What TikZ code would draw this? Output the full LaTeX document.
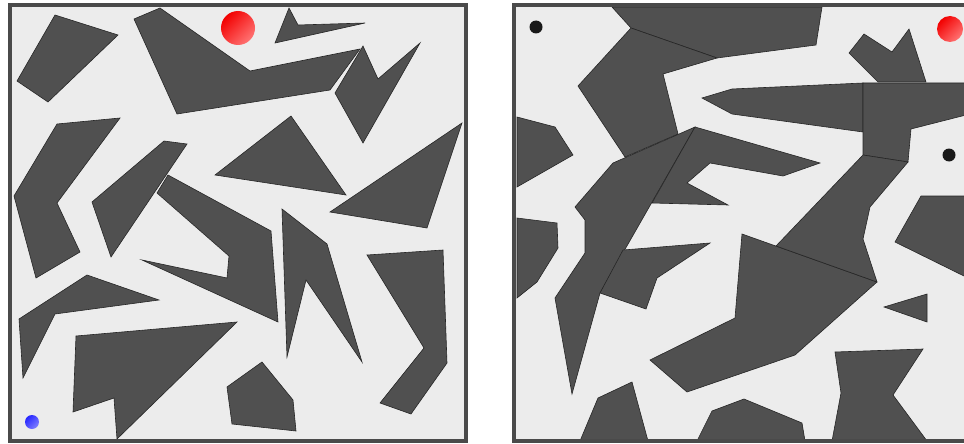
\documentclass[tikz,border=0pt]{standalone}
\definecolor{rock}{HTML}{505050}
\definecolor{ground}{HTML}{ECECEC}
\definecolor{rim}{HTML}{4A4A4A}
\begin{document}
\begin{tikzpicture}[x=1pt, y=-1pt,
  wall/.style={fill=rock, draw=black!85, line width=0.6pt},
  rimline/.style={draw=rim, line width=4pt},
  goal/.style={shading=axis, top color=red!95!black, bottom color=red!55!white, shading angle=45}]
  \useasboundingbox (0,0) rectangle (964,444);

  % floors
  \fill[ground] (9.5,5) rectangle (466,441);
  \fill[ground] (514,5) rectangle (966,441);

  % left arena, obstacles
  \draw[wall] (55,15) -- (118,35) -- (48,102) -- (17,81) -- cycle;
  \draw[wall] (134,19) -- (160,8) -- (250,71) -- (360,49) -- (330,90) -- (177,114) -- cycle;
  \draw[wall] (289,8) -- (298,25) -- (365,23) -- (275,43) -- cycle;
  \draw[wall] (335,93) -- (363,46) -- (378,79) -- (420,43) -- (363,143) -- cycle;
  \draw[wall] (215,175) -- (291,116) -- (346,195) -- cycle;
  \draw[wall] (330,212) -- (462,123) -- (427,228) -- cycle;
  \draw[wall] (57,124) -- (120,118) -- (57,203) -- (80,252) -- (36,278) -- (14,196) -- cycle;
  \draw[wall] (164,141) -- (187,144) -- (111,257) -- (92,202) -- cycle;
  \draw[wall] (168,175) -- (271,231) -- (278,322) -- (142,260) -- (227,278) -- (229,256) -- (157,193) -- cycle;
  \draw[wall] (19,319) -- (87,275) -- (159,300) -- (55,314) -- (23,378) -- cycle;
  \draw[wall] (76,336) -- (237,322) -- (117,439) -- (114,398) -- (73,412) -- cycle;
  \draw[wall] (262,362) -- (293,400) -- (296,431) -- (232,424) -- (227,387) -- cycle;
  \draw[wall] (282,209) -- (327,244) -- (362,362) -- (306,280) -- (287,357) -- cycle;
  \draw[wall] (367,255) -- (443,250) -- (447,363) -- (411,414) -- (380,403) -- (424,348) -- cycle;

  % right arena, obstacles
  \draw[wall] (612,7) -- (822,7) -- (816,45) -- (717,58) -- (631,28) -- cycle;
  \draw[wall] (631,28) -- (717,58) -- (663,74) -- (678,134) -- (625,157) -- (578,86) -- cycle;
  \draw[wall] (702,98) -- (732,89) -- (863,83) -- (863,132) -- (732,114) -- cycle;
  \draw[wall] (863,83) -- (966,83) -- (966,115) -- (911,129) -- (908,162) -- (863,155) -- cycle;
  \draw[wall] (849,53) -- (864,34) -- (892,52) -- (909,29) -- (926,82) -- (878,82) -- cycle;
  \draw[wall] (742,234) -- (877,282) -- (795,355) -- (687,392) -- (650,360) -- (735,318) -- cycle;
  \draw[wall] (863,155) -- (908,162) -- (870,207) -- (863,239) -- (877,282) -- (776,246) -- cycle;
  \draw[wall] (884,307) -- (927,294) -- (927,322) -- cycle;
  \draw[wall] (921,196) -- (966,196) -- (966,277) -- (895,242) -- cycle;
  \draw[wall] (835,352) -- (923,349) -- (893,395) -- (927,441) -- (832,441) -- (841,393) -- cycle;
  \draw[wall] (697,441) -- (712,411) -- (744,399) -- (802,423) -- (805,441) -- cycle;
  \draw[wall] (580,441) -- (598,398) -- (632,382) -- (648,441) -- cycle;
  \draw[wall] (517,117) -- (555,127) -- (573,155) -- (517,187) -- cycle;
  \draw[wall] (517,218) -- (557,223) -- (558,248) -- (537,282) -- (517,298) -- cycle;
  \draw[wall] (613,163) -- (695,127) -- (600,293) -- (572,394) -- (555,298) -- (585,253) -- (585,220) -- (575,207) -- cycle;
  \draw[wall] (695,127) -- (820,163) -- (783,176) -- (710,163) -- (687,183) -- (728,205) -- (652,203) -- cycle;
  \draw[wall] (623,250) -- (710,243) -- (657,278) -- (646,309) -- (600,293) -- cycle;

  % frames
  \draw[rimline] (9.5,5) rectangle (466,441);
  \draw[rimline] (514,5) rectangle (966,441);

  % coordinates
  \coordinate (goalL) at (238,28);
  \coordinate (startL) at (32,422);
  \coordinate (goalR) at (950,29);
  \coordinate (dotA) at (536,27);
  \coordinate (dotB) at (949,155);

  % balls
  \shade[goal] (goalL) circle (17);
  \shade[goal] (goalR) circle (13);
  \shade[shading=axis, top color=blue!85!white, bottom color=blue!50!white, shading angle=45] (startL) circle (7);
  \fill[black!90] (dotA) circle (6.5);
  \fill[black!90] (dotB) circle (6.5);
\end{tikzpicture}
\end{document}
